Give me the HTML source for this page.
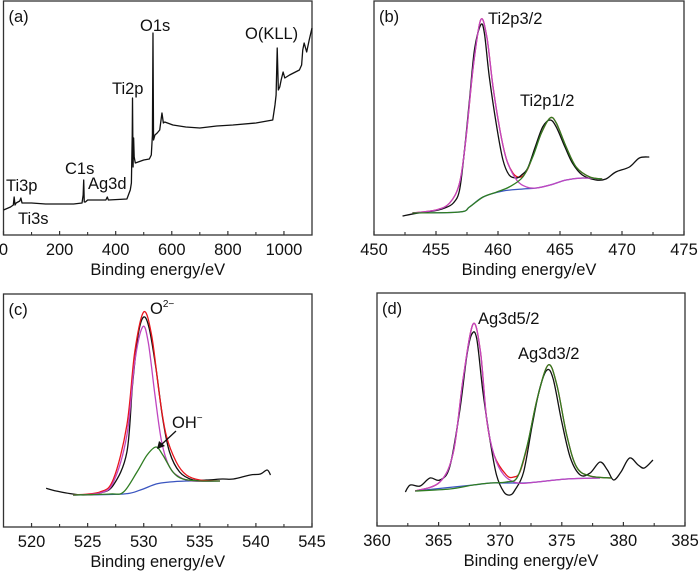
<!DOCTYPE html>
<html><head><meta charset="utf-8"><style>
body{margin:0;background:#fff}
svg{display:block;font-family:"Liberation Sans",Arial,sans-serif}
</style></head><body>
<svg id="fig" width="700" height="571" viewBox="0 0 700 571" xmlns="http://www.w3.org/2000/svg"></svg>
<script>
// ---- Panel (a) survey ----
const aTicks=[0,200,400,600,800,1000];
const aEv=[0,25,35,38,41,45,58,62,66,70,100,150,200,250,280,284,286,288,292,300,340,365,370,374,440,448,452,456,459,460,461,462,464,466,470,480,500,520,527,531,533,535,540,548,557,565,570,575,604,650,700,760,818,900,960,968,972,976,980,985,990,997,1003,1020,1055,1063,1067,1072,1081,1090,1100];
const aVal=[25,28,30,38,30,32,34,37,32,32,32,31,31,31,32,40,55,33,33,35,35,35,38,35,36,42,45,52,100,137,100,68,97,78,72,73,75,76,80,100,202,95,100,102,105,122,112,113,110,108,107,109,110,112,115,130,140,187,145,148,155,163,157,160,165,170,185,192,183,195,207];
// ---- Panel (b) Ti2p ----
const bTicks=[450,455,460,465,470,475];
const bRawEv=[452.3,453.4,454.8,455.7,456.4,456.9,457.3,457.7,458.1,458.6,458.9,459.3,459.9,460.4,460.9,461.5,461.9,462.4,463.0,463.6,464.2,464.7,465.4,466.0,466.8,467.9,468.7,469.5,470.6,471.4,472.2];
const bRaw=[19,21.7,24,27,32,45,85,135,185,210,202,158,108,75,60,57,60,67,88,108,115,108,88,72,60,55,56,63,68,77,78];
const bMagEv=[453.1,455,456.1,456.9,457.4,458,458.6,459.1,459.6,460.2,460.7,461.5,462.3,463.1,464.2,465.5,466.8,468.4];
const bMag=[22,25,32,52,95,168,215,198,148,102,75,55,48,47,50,55,57,56];
const bGrnEv=[453.1,456.9,457.7,458.8,459.9,460.9,462.0,462.8,463.5,464.2,464.7,465.5,466.3,467.4,468.4];
const bGrn=[22,23,28,38,43,48,58,78,102,117,112,88,68,58,56];
const bBluEv=[453.1,456.9,457.7,458.8,460.4,462,463.1,464.2,465.5,466.8,468.4];
const bBlu=[22,23,28,38,44,46,47,50,55,57,56];
const bRedEv=[453.1,455,456.1,456.9,457.4,458,458.6,459.1,459.6,460.2,460.7,461.2,461.6,462.0,462.4,462.8,463.5,464.2,464.7,465.5,466.3,467.4,468.4];
const bRed=[22,25,32,52,95,168,215,198,148,102,75,62,58,59,66,79,102,117,112,88,68,58,56];
// ---- Panel (c) O1s ----
const cTicks=[520,525,530,535,540,545];
const cRawEv=[521.3,522.2,523.1,524.6,526.1,527.3,528.5,529.0,529.5,530.0,530.5,531.1,531.7,532.3,533.2,534.4,535.6,537.0,538.0,539.5,540.4,541.0,541.3];
const cRaw=[38.7,36,34,32,34,42,75,142,192,210,198,158,108,75,55,47,47,48,48,52,53,57,52];
const cRedEv=[523.7,526.1,527.3,528.5,529.2,530.0,530.7,531.4,532.0,532.9,533.8,535.0,536.8];
const cRed=[32,35,48,102,175,215,192,132,92,65,52,47,46];
const cMagEv=[523.7,526.1,527.3,528.5,529.2,529.9,530.4,531.0,531.6,532.3,533.2,534.4,536.8];
const cMag=[32,34,45,92,165,200,185,132,85,60,50,46,46];
const cGrnEv=[523.7,527,528.2,529.4,530.3,531.1,531.7,532.6,533.5,535,536.8];
const cGrn=[32,33,35,55,72,80,72,55,48,46,46];
const cBluEv=[523.7,528.2,529.7,531.1,532.3,533.8,535];
const cBlu=[32,33,37,43,45,46,46];
// ---- Panel (d) Ag3d ----
const dTicks=[360,365,370,375,380,385];
const dRawEv=[362.3,362.7,363.5,364.3,365.1,365.9,366.7,367.3,367.7,368.1,368.6,369.2,369.7,370.3,370.8,371.2,371.9,372.6,373.2,373.8,374.3,375.0,375.7,376.5,377.3,378.1,378.7,379.2,379.8,380.5,381.2,381.7,382.4];
const dRaw=[34,41,40,48,46,59,114,171,192,187,134,84,51,34,31,36,54,101,137,156,147,104,68,51,53,64,56,46,54,68,61,58,66];
const dMagEv=[363.1,365.1,366.2,367.0,367.8,368.4,368.9,369.5,370.3,371.4,373.0,375.4,378.1];
const dMag=[35,44,74,148,202,174,107,71,51,43,44,47,48];
const dGrnEv=[363.1,365.9,367.8,369.2,370.5,371.4,372.2,373.0,373.9,374.6,375.4,376.2,377.3,379];
const dGrn=[35,37,41,43,44,49,81,127,161,141,91,59,50,48];
const dRedEv=[363.1,365.1,366.2,367.0,367.8,368.4,368.9,369.5,370.5,371.1,371.6,372.2,373.0,373.9,374.6,375.4,376.2,377.3,379];
const dRed=[35,44,74,148,202,174,107,71,51,49,54,80,127,161,141,91,59,50,48];
const dBluEv=[363.1,367.8,369.2,370.5,371.9,373,375.4,378.1];
const dBlu=[35,41,43,43,43,44,47,48];

const NS='http://www.w3.org/2000/svg';
const svg=document.getElementById('fig');
function mk(tag,attrs,parent){const e=document.createElementNS(NS,tag);for(const k in attrs)e.setAttribute(k,attrs[k]);(parent||svg).appendChild(e);return e;}
const COL={black:'#111',red:'#e8141c',mag:'#c046c0',grn:'#2f7d22',blu:'#3a55c0'};

function panel(id,x0,x1,y0,y1,dmin,dmax,ticks,label){
  const g=mk('g',{});
  
  
  const sx=v=>x0+(v-dmin)/(dmax-dmin)*(x1-x0);
  const sy=v=>y1-v;
  const box=mk('rect',{x:x0,y:y0,width:x1-x0,height:y1-y0,fill:'none',stroke:'#333','stroke-width':1.3},g);
  
  
  const step=ticks[1]-ticks[0];
  for(let i=0;i<ticks.length;i++){
    const t=ticks[i];
    const tx=sx(t);
    const tk=mk('line',{x1:tx,x2:tx,y1:y1,y2:y1-4,stroke:'#333','stroke-width':1.2},g);
    
    
    const tl=mk('text',{x:tx,y:y1+20,'font-size':16.5,'text-anchor':'middle',fill:'#111'},g);
    tl.textContent=t;
    
    
    if(i<ticks.length-1){
      const mx=sx(t+step/2);
      const mt=mk('line',{x1:mx,x2:mx,y1:y1,y2:y1-3,stroke:'#333','stroke-width':1.1},g);
      
      
    }
  }
  const at=mk('text',{x:(x0+x1)/2,y:y1+40,'font-size':16.5,'text-anchor':'middle',fill:'#111'},g);
  at.textContent='Binding energy/eV';
  
  
  const pl=mk('text',{x:x0+5,y:y0+21,'font-size':16.5,fill:'#111'},g);
  pl.textContent=label;
  
  
  return {g,sx,sy};
}
function curve(p,xs,ys,color,name,smooth){
  const P=xs.map((x,i)=>[p.sx(x),p.sy(ys[i])]);
  let d='M'+P[0][0].toFixed(2)+','+P[0][1].toFixed(2);
  for(let i=1;i<P.length;i++){
    if(smooth){
      const p0=P[Math.max(0,i-2)],p1=P[i-1],p2=P[i],p3=P[Math.min(P.length-1,i+1)];
      const c1=[p1[0]+(p2[0]-p0[0])/6,p1[1]+(p2[1]-p0[1])/6];
      const c2=[p2[0]-(p3[0]-p1[0])/6,p2[1]-(p3[1]-p1[1])/6];
      d+='C'+c1[0].toFixed(2)+','+c1[1].toFixed(2)+' '+c2[0].toFixed(2)+','+c2[1].toFixed(2)+' '+p2[0].toFixed(2)+','+p2[1].toFixed(2);
    } else d+='L'+P[i][0].toFixed(2)+','+P[i][1].toFixed(2);
  }
  const e=mk('path',{d:d,fill:'none',stroke:color,'stroke-width':1.3,'stroke-linejoin':'round'},p.g);
  
  
}
function txt(p,x,y,s,name,size){
  const t=mk('text',{x:x,y:y,'font-size':size||16.5,fill:'#111'},p.g);
  t.textContent=s;
  
  
  return t;
}

// Panel a
const pa=panel('a',3.5,312,1,235,0,1100,aTicks,'(a)');
curve(pa,aEv,aVal,COL.black,'survey-spectrum',false);
txt(pa,140,31,'O1s','label-o1s');
txt(pa,245,39,'O(KLL)','label-okll');
txt(pa,112,94,'Ti2p','label-ti2p');
txt(pa,65,174,'C1s','label-c1s');
txt(pa,88,189,'Ag3d','label-ag3d');
txt(pa,6,191,'Ti3p','label-ti3p');
txt(pa,18,224,'Ti3s','label-ti3s');

// Panel b
const pb=panel('b',374,684,1,235,450,475,bTicks,'(b)');
curve(pb,bBluEv,bBlu,COL.blu,'background-line',true);
curve(pb,bRedEv,bRed,COL.red,'envelope-fit',true);
curve(pb,bRawEv,bRaw,COL.black,'raw-spectrum',true);
curve(pb,bMagEv,bMag,COL.mag,'ti2p3-fit',true);
curve(pb,bGrnEv,bGrn,COL.grn,'ti2p1-fit',true);
txt(pb,488,24,'Ti2p3/2','label-ti2p3-2');
txt(pb,520,106,'Ti2p1/2','label-ti2p1-2');

// Panel c
const pc=panel('c',3.5,312,294,527,517.5,545,cTicks,'(c)');
curve(pc,cBluEv,cBlu,COL.blu,'background-line',true);
curve(pc,cRawEv,cRaw,COL.black,'raw-spectrum',true);
curve(pc,cRedEv,cRed,COL.red,'envelope-fit',true);
curve(pc,cMagEv,cMag,COL.mag,'o2-fit',true);
curve(pc,cGrnEv,cGrn,COL.grn,'oh-fit',true);
const o2=txt(pc,150,314,'O','label-o2');
const sup=mk('tspan',{'font-size':10,dy:-7},o2);sup.textContent='2−';
const oh=txt(pc,172,428,'OH','label-oh');
const sup2=mk('tspan',{'font-size':10,dy:-7},oh);sup2.textContent='−';
const arr=mk('line',{x1:176,y1:431,x2:161,y2:445,stroke:'#111','stroke-width':1.3},pc.g);


const ah=mk('polygon',{points:'157,449 159,441 165,446',fill:'#111'},pc.g);



// Panel d
const pd=panel('d',377,685,293,526,360,385,dTicks,'(d)');
curve(pd,dBluEv,dBlu,COL.blu,'background-line',true);
curve(pd,dRedEv,dRed,COL.red,'envelope-fit',true);
curve(pd,dRawEv,dRaw,COL.black,'raw-spectrum',true);
curve(pd,dMagEv,dMag,COL.mag,'ag3d5-fit',true);
curve(pd,dGrnEv,dGrn,COL.grn,'ag3d3-fit',true);
txt(pd,478,324,'Ag3d5/2','label-ag3d5-2');
txt(pd,518,359,'Ag3d3/2','label-ag3d3-2');
</script>
</body></html>
